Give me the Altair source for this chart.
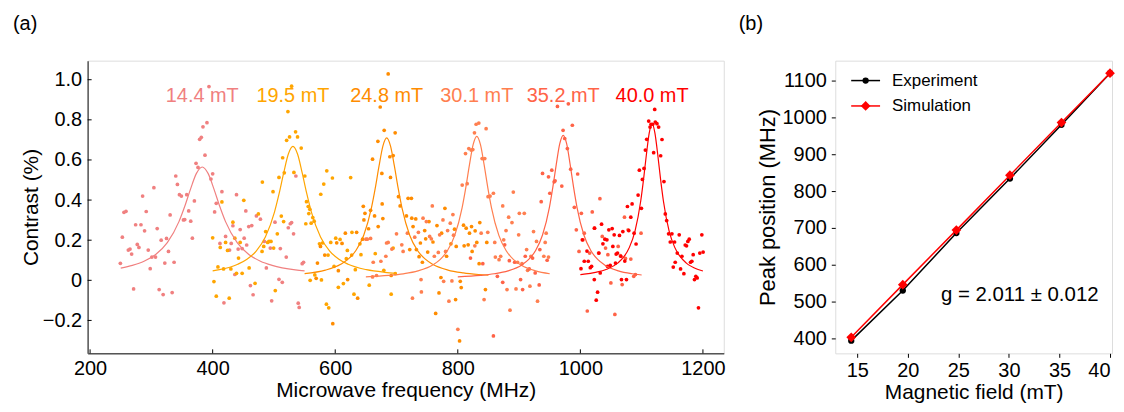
import altair as alt
import pandas as pd

FONT = "Liberation Sans"

# ---------------- panel (a) data ----------------
series_names = ["14.4 mT", "19.5 mT", "24.8 mT", "30.1 mT", "35.2 mT", "40.0 mT"]
series_colors = ["#F08080", "#FFA500", "#FF8C00", "#FF7F50", "#FF6347", "#FF0000"]
peak_freq = [383, 531, 684, 831, 972, 1117]

x_144 = [249.4, 252.6, 255.3, 258.6, 262.4, 265.1, 267.8, 271.0, 274.3, 277.0, 279.7, 283.0, 285.7, 288.9, 291.6,
         294.9, 298.1, 300.8, 304.1, 306.8, 309.5, 312.7, 316.0, 319.2, 321.9, 324.7, 327.9, 330.6, 333.9, 337.1,
         339.8, 342.5, 345.8, 349.0, 352.3, 354.4, 357.7, 360.9, 364.2, 366.9, 370.2, 372.9, 376.1, 378.8, 381.5,
         384.2, 387.5, 390.7, 394.0, 397.2, 400.0, 403.2, 405.9, 411.9, 415.1, 418.4, 421.1, 427.6, 430.3, 433.0,
         436.2, 438.9, 441.6, 444.9, 448.1, 451.4, 454.1, 455.5, 458.9, 461.6, 463.8, 466.0, 471.4, 477.9, 484.4,
         487.6, 494.1, 496.3, 501.7, 508.2, 510.4, 513.6, 520.1, 523.4, 526.6, 528.8, 532.0, 535.8, 539.6, 541.2,
         546.1, 548.3]
y_144 = [0.085, 0.215, 0.339, 0.344, 0.151, 0.156, 0.131, -0.043, 0.277, 0.179, 0.164, 0.277, 0.420, 0.247, 0.343,
         0.151, 0.058, 0.116, 0.462, 0.116, 0.258, -0.046, 0.200, -0.071, 0.086, 0.209, 0.144, 0.326, -0.061, 0.090,
         0.520, 0.478, 0.427, 0.420, 0.301, 0.303, 0.427, 0.346, 0.295, 0.210, 0.396, 0.583, 0.563, 0.703, 0.713,
         0.765, 0.624, 0.786, 0.966, 0.505, 0.531, 0.341, 0.384, 0.184, 0.442, -0.112, 0.219, 0.151, 0.184, 0.272,
         0.029, 0.427, 0.156, 0.253, 0.158, 0.210, 0.346, 0.176, 0.268, -0.026, 0.273, -0.072, 0.321, 0.305, 0.194,
         0.062, 0.161, -0.102, 0.290, 0.005, 0.158, -0.010, 0.116, 0.262, 0.282, 0.288, 0.232, 0.520, -0.114, -0.135,
         0.083, 0.090]

x_195 = [400.0, 402.1, 405.9, 408.6, 412.4, 415.1, 417.8, 421.1, 424.3, 427.0, 429.7, 433.0, 436.2, 438.9, 442.2,
         444.9, 448.1, 450.8, 459.5, 469.2, 474.6, 480.6, 481.1, 483.3, 486.5, 489.8, 492.0, 495.2, 498.5, 499.5,
         502.2, 505.5, 508.2, 512.0, 514.2, 515.8, 516.9, 520.7, 522.8, 525.5, 528.8, 532.6, 535.3, 538.5, 544.5,
         550.4, 553.1, 552.0, 555.9, 556.9, 558.6, 559.1, 560.7, 563.4, 565.6, 566.7, 574.3, 576.4, 577.5, 579.1,
         581.3, 586.2, 585.6, 588.3, 589.4, 592.7, 595.4, 598.1, 600.8, 605.1, 607.9, 613.3, 618.1, 619.8, 625.2,
         627.3, 626.8, 630.6, 632.8, 640.3, 642.0, 655.5, 665.3, 679.3, 691.3, 694.5, 698.0]
y_195 = [0.212, -0.006, -0.079, 0.067, 0.164, 0.391, 0.057, 0.189, 0.149, -0.089, 0.057, 0.290, 0.210, 0.035, 0.111,
         0.189, 0.035, 0.399, 0.062, -0.015, 0.331, 0.144, 0.490, 0.169, 0.243, 0.189, 0.194, 0.194, 0.442, 0.161,
         -0.051, 0.232, 0.513, 0.320, 0.611, 0.293, 0.536, 0.698, 0.841, 0.715, 0.968, 0.538, 0.740, 0.715, 0.659,
         0.520, 0.392, 0.282, 0.368, 0.333, 0.354, 0.000, 0.285, 0.313, 0.295, 0.027, 0.182, 0.429, 0.002, 0.186,
         0.480, 0.546, -0.119, 0.126, -0.137, 0.189, 0.510, 0.070, 0.210, -0.035, 0.204, -0.016, 0.108, 0.149, 0.512,
         0.239, 0.126, -0.069, 0.053, 0.182, 0.128, -0.024, 0.133, 0.050, -0.069, 0.161, 0.033]

x_248 = [568.9, 571.0, 575.9, 582.9, 596.0, 602.4, 605.1, 611.1, 616.5, 620.3, 634.9, 636.6, 644.7, 645.8, 646.8,
         648.5, 654.4, 657.7, 660.9, 664.2, 669.6, 670.1, 673.4, 676.1, 676.6, 677.7, 679.9, 686.4, 689.1, 690.2,
         691.3, 694.5, 697.8, 703.2, 705.9, 716.2, 718.9, 721.6, 724.3, 724.9, 727.0, 731.4, 732.4, 736.8, 739.0,
         742.2, 746.0, 747.6, 750.9, 753.0, 759.5, 763.9, 766.0, 769.3, 772.5, 773.6, 779.0, 781.7, 788.8, 794.7,
         796.4, 797.4, 802.9, 804.0, 805.6, 809.4, 810.4, 813.7, 816.9, 819.1, 822.4, 823.4, 828.3, 831.0, 834.8,
         835.9, 845.1, 847.3]
y_248 = [0.010, 0.086, 0.169, 0.126, -0.216, 0.187, 0.048, 0.184, 0.235, 0.004, 0.239, -0.089, 0.205, 0.369, 0.301,
         0.334, 0.257, 0.349, 0.604, 0.321, 0.693, 0.268, 0.864, 0.533, 0.381, 0.308, 0.748, 1.029, 0.616, 0.513,
         0.024, 0.622, 0.735, 0.417, 0.371, 0.321, 0.409, 0.153, 0.409, 0.310, 0.268, 0.306, 0.153, 0.118, 0.186,
         0.090, 0.248, 0.207, 0.141, 0.293, 0.191, -0.165, 0.273, -0.063, 0.014, 0.235, 0.359, 0.120, 0.182, 0.255,
         -0.096, 0.169, -0.302, -0.005, -0.036, 0.275, 0.172, 0.260, 0.177, 0.235, 0.268, 0.144, 0.247, 0.189, 0.083,
         0.288, -0.046, 0.189]

x_301 = [650.1, 652.3, 657.7, 660.9, 662.0, 667.4, 674.5, 682.6, 683.7, 686.4, 692.4, 700.0, 708.6, 710.8, 717.8,
         726.0, 729.7, 735.7, 740.0, 740.6, 743.3, 748.7, 754.1, 756.8, 758.4, 761.7, 768.2, 770.4, 775.8, 776.9,
         780.1, 783.4, 785.5, 787.7, 790.4, 792.0, 793.1, 800.1, 807.2, 812.6, 815.3, 818.0, 821.8, 824.5, 827.2,
         827.8, 829.9, 834.3, 838.1, 839.7, 842.9, 844.0, 846.2, 848.9, 849.4, 852.7, 858.1, 860.3, 861.3, 867.3,
         870.0, 873.3, 874.9, 878.7, 880.3, 883.0, 885.2, 888.4, 890.6, 895.0, 897.6, 899.3, 900.4, 904.7, 908.5,
         912.3, 913.9, 917.7, 919.3, 923.6, 928.5, 930.1, 940.4, 942.6, 944.2, 948.0]
y_301 = [0.205, 0.205, 0.209, 0.017, 0.090, 0.024, 0.095, 0.120, 0.186, 0.189, 0.156, 0.232, 0.177, 0.144, 0.235,
         -0.089, 0.215, 0.239, 0.004, -0.058, 0.310, 0.293, 0.219, 0.207, 0.371, 0.120, 0.139, 0.227, 0.301, -0.005,
         0.144, 0.248, -0.104, 0.285, -0.003, 0.328, 0.225, -0.244, 0.475, 0.632, 0.482, 0.657, 0.649, 0.652, 0.735,
         0.172, 0.778, 0.784, 0.235, 0.607, -0.096, 0.607, 0.756, 0.239, 0.417, 0.420, 0.434, 0.189, 0.116, 0.103,
         0.120, 0.371, 0.202, 0.248, -0.046, 0.315, -0.149, 0.288, 0.440, -0.043, 0.090, 0.227, 0.334, 0.083, 0.334,
         0.153, 0.050, -0.029, 0.120, 0.243, 0.194, -0.104, 0.120, 0.189, 0.235, 0.116]

x_352 = [820.7, 840.8, 858.1, 864.6, 873.3, 876.5, 884.1, 892.8, 902.5, 905.8, 910.1, 916.6, 922.0, 926.3, 932.8,
         933.9, 936.1, 938.3, 945.8, 948.0, 950.2, 953.4, 957.2, 958.8, 962.6, 969.7, 971.8, 974.5, 978.8, 980.4,
         984.2, 986.9, 990.2, 993.4, 995.6, 997.8, 1001.6, 1004.3, 1006.4, 1011.3, 1015.1, 1019.4, 1022.7, 1029.7,
         1031.9, 1035.7, 1041.1, 1044.9, 1049.8, 1056.3, 1061.7, 1065.5, 1068.2, 1072.0, 1073.6, 1077.9, 1082.3,
         1087.1, 1089.8, 1099.0]
y_352 = [0.111, 0.083, -0.277, 0.020, -0.010, 0.177, 0.098, 0.090, 0.004, -0.046, 0.120, 0.057, 0.111, 0.037, -0.023,
         0.153, 0.392, 0.533, 0.100, 0.516, 0.434, 0.549, 0.491, 0.496, 0.867, 0.470, 0.748, 0.707, 0.657, 0.880,
         0.554, 0.773, 0.364, 0.252, 0.530, 0.144, 0.334, 0.202, 0.235, -0.153, 0.136, 0.341, 0.260, 0.136,
         0.407, 0.219, 0.161, 0.128, -0.013, -0.170, 0.169, 0.123, -0.021, 0.315, 0.109, 0.252, 0.106,
         0.020, 0.029, 0.235]

x_400 = [1001.0, 1003.2, 1006.4, 1010.8, 1012.9, 1016.2, 1018.3, 1022.7, 1023.2, 1025.9, 1028.1, 1030.3, 1032.4,
         1034.6, 1036.8, 1040.0, 1043.3, 1044.3, 1046.5, 1048.7, 1051.9, 1053.0, 1055.2, 1057.3, 1058.4, 1060.6,
         1063.8, 1066.0, 1067.1, 1069.3, 1072.5, 1075.2, 1076.8, 1079.0, 1082.3, 1084.4, 1087.7, 1090.9, 1094.2,
         1096.3, 1099.6, 1101.2, 1103.9, 1106.1, 1108.3, 1111.5, 1113.7, 1115.3, 1118.0, 1119.6, 1121.3, 1122.3,
         1125.0, 1127.7, 1131.0, 1133.2, 1136.4, 1138.6, 1140.8, 1144.0, 1146.7, 1149.4, 1151.6, 1153.7, 1154.8,
         1158.1, 1161.3, 1163.5, 1165.7, 1168.9, 1171.1, 1173.2, 1175.4, 1177.6, 1179.7, 1181.9, 1184.1, 1186.2,
         1188.4, 1190.6, 1192.7, 1194.9, 1198.2, 1200.3]
y_400 = [0.058, 0.202, 0.095, 0.146, 0.095, 0.063, 0.070, 0.004, 0.260, -0.099, -0.059, 0.136, 0.037,
         0.280, 0.182, 0.205, 0.202, 0.070, 0.252, 0.075, 0.258, 0.169, 0.227, 0.086, 0.131, 0.136,
         0.224, 0.120, 0.004, 0.243, 0.096, 0.004, 0.368, 0.248, 0.315, 0.381, 0.235, 0.181, 0.425,
         0.549, 0.359, 0.503, 0.558, 0.649, 0.703, 0.794, 0.764, 0.778, 0.778, 0.636, 0.852, 0.789,
         0.781, 0.764, 0.621, 0.702, 0.492, 0.331, 0.298, 0.232, 0.191, 0.232, 0.066, 0.191, 0.090,
         0.136, 0.227, 0.057, 0.120, 0.033, 0.176, 0.172, 0.194, 0.205, 0.090, 0.095, 0.128, 0.004,
         0.020, 0.012, -0.137, 0.136, 0.227, 0.141]

# Lorentzian fit curves
fx_144 = [250, 269, 288, 307, 326, 345, 354.5, 364, 373.5, 383, 392.5, 402, 411.5, 421, 440, 459, 478, 497, 535, 550]
fy_144 = [0.061, 0.0745, 0.095, 0.129, 0.188, 0.2925, 0.369, 0.456, 0.533, 0.565, 0.533, 0.456, 0.369, 0.2925,
          0.188, 0.129, 0.095, 0.0745, 0.052, 0.047]
fx_195 = [400, 411, 441, 456, 471, 486, 501, 508.5, 516, 523.5, 531, 538.5, 546, 553.5, 561, 576, 591, 606, 621,
          651, 681, 700]
fy_195 = [0.0475, 0.053, 0.080, 0.105, 0.146, 0.216, 0.3415, 0.433, 0.537, 0.630, 0.668, 0.630, 0.537, 0.433,
          0.3415, 0.216, 0.146, 0.105, 0.080, 0.053, 0.040, 0.035]
fx_248 = [550, 584, 609, 621.5, 634, 646.5, 659, 665.25, 671.5, 677.75, 684, 690.25, 696.5, 702.75, 709, 721.5,
          734, 746.5, 759, 784, 809, 834, 850]
fy_248 = [0.0336, 0.051, 0.080, 0.1066, 0.150, 0.225, 0.360, 0.458, 0.570, 0.669, 0.710, 0.669, 0.570, 0.458,
          0.360, 0.225, 0.150, 0.1066, 0.080, 0.051, 0.037, 0.029, 0.0255]
fx_301 = [650, 687, 711, 735, 759, 771, 783, 795, 807, 813, 819, 825, 831, 837, 843, 849, 855, 867, 879, 891, 903,
          927, 950]
fy_301 = [0.0173, 0.0243, 0.0324, 0.047, 0.0763, 0.103, 0.1476, 0.224, 0.3615, 0.461, 0.575, 0.676, 0.718, 0.676,
          0.575, 0.461, 0.3615, 0.224, 0.1476, 0.103, 0.0763, 0.047, 0.0328]
fx_352 = [800, 837, 859.5, 882, 904.5, 915.75, 927, 938.25, 949.5, 955.1, 960.75, 966.4, 972, 977.6, 983.25, 988.9,
          994.5, 1005.75, 1017, 1028.25, 1039.5, 1062, 1084.5, 1100]
fy_352 = [0.0171, 0.0244, 0.0326, 0.0472, 0.0768, 0.104, 0.1486, 0.226, 0.364, 0.4645, 0.579, 0.681, 0.723, 0.681,
          0.579, 0.4645, 0.364, 0.226, 0.1486, 0.104, 0.0768, 0.0472, 0.0326, 0.0265]
fx_400 = [1000, 1006, 1024.5, 1043, 1061.5, 1070.75, 1080, 1089.25, 1098.5, 1103.1, 1107.75, 1112.4, 1117, 1121.6,
          1126.25, 1130.9, 1135.5, 1144.75, 1154, 1163.25, 1172.5, 1191, 1200]
fy_400 = [0.0288, 0.0308, 0.0397, 0.0553, 0.0871, 0.1164, 0.1642, 0.247, 0.3955, 0.503, 0.627, 0.7355, 0.781,
          0.7355, 0.627, 0.503, 0.3955, 0.247, 0.1642, 0.1164, 0.0871, 0.0553, 0.0465]

freq_ticks = [200, 400, 600, 800, 1000, 1200]
contrast_ticks = [-0.2, 0, 0.2, 0.4, 0.6, 0.8, 1.0]

# ---------------- panel (b) data ----------------
field_mT = [14.4, 19.5, 24.8, 30.1, 35.2, 40.0]
exp_peak = [394, 530, 686, 834, 980, 1120]
sim_peak = [403, 546, 694, 843, 986, 1120]
field_ticks = [15, 20, 25, 30, 35, 40]
peak_ticks = [400, 500, 600, 700, 800, 900, 1000, 1100]
g_text = "g = 2.011 ± 0.012"

# ---------------- build tables ----------------
pts_x = [x_144, x_195, x_248, x_301, x_352, x_400]
pts_y = [y_144, y_195, y_248, y_301, y_352, y_400]
fit_x = [fx_144, fx_195, fx_248, fx_301, fx_352, fx_400]
fit_y = [fy_144, fy_195, fy_248, fy_301, fy_352, fy_400]

pts = pd.concat([pd.DataFrame({"f": xs, "c": ys, "series": name})
                 for xs, ys, name in zip(pts_x, pts_y, series_names)], ignore_index=True)
fits = pd.concat([pd.DataFrame({"f": xs, "c": ys, "series": name})
                  for xs, ys, name in zip(fit_x, fit_y, series_names)], ignore_index=True)
labels = pd.DataFrame({"f": peak_freq, "series": series_names})

W_A, H_A = 639, 294
W_B, H_B = 278, 294

xa = alt.Scale(domain=[196, 1234], nice=False, zero=False)
ya = alt.Scale(domain=[-0.364, 1.095], nice=False, zero=False)
col = alt.Scale(domain=series_names, range=series_colors)

x_enc = alt.X("f:Q", scale=xa, axis=alt.Axis(
    values=freq_ticks, format="d", title="Microwave frequency (MHz)", labelFontSize=20, titleFontSize=21,
    titleFontWeight="normal", labelPadding=5, titlePadding=1, ticks=False, grid=False,
    domain=True, domainColor="#555555", domainWidth=1.5))
y_enc = alt.Y("c:Q", scale=ya, axis=alt.Axis(
    values=contrast_ticks, title="Contrast (%)", labelFontSize=20, titleFontSize=21, titleFontWeight="normal",
    labelPadding=6, titlePadding=1, ticks=False, grid=False,
    domain=True, domainColor="#555555", domainWidth=1.5,
    labelExpr="datum.value == 0 ? '0' : format(datum.value, '.1f')"))

points_a = alt.Chart(pts).mark_circle(size=14, opacity=1).encode(
    x=x_enc, y=y_enc, color=alt.Color("series:N", scale=col, legend=None))
lines_a = alt.Chart(fits).mark_line(strokeWidth=1.2, interpolate="monotone").encode(
    x="f:Q", y="c:Q", color=alt.Color("series:N", scale=col, legend=None), detail="series:N")
text_a = alt.Chart(labels).mark_text(fontSize=20, font=FONT, baseline="middle", align="center").encode(
    x="f:Q", y=alt.value(36), text="series:N", color=alt.Color("series:N", scale=col, legend=None))
xt_a = alt.Chart(pd.DataFrame({"f": freq_ticks})).mark_rule(color="black", strokeWidth=1).encode(
    x="f:Q", y=alt.value(H_A), y2=alt.value(H_A - 4))
yt_a = alt.Chart(pd.DataFrame({"c": contrast_ticks})).mark_rule(color="black", strokeWidth=1).encode(
    y="c:Q", x=alt.value(0), x2=alt.value(4))
tag_a = alt.Chart(pd.DataFrame({"t": ["(a)"]})).mark_text(
    fontSize=20, font=FONT, align="left", baseline="alphabetic", color="black").encode(
    x=alt.value(-75), y=alt.value(-30.5), text="t:N")

panel_a = alt.layer(points_a, lines_a, text_a, xt_a, yt_a, tag_a).properties(width=W_A, height=H_A)

# panel b
exp_df = pd.DataFrame({"B": field_mT, "P": exp_peak})
sim_df = pd.DataFrame({"B": field_mT, "P": sim_peak})
xb = alt.Scale(domain=[12.82, 40.2], nice=False, zero=False)
yb = alt.Scale(domain=[359.5, 1154], nice=False, zero=False)
xb_enc = alt.X("B:Q", scale=xb, axis=alt.Axis(
    values=field_ticks, format="d", title="Magnetic field (mT)", labelFontSize=20, titleFontSize=21,
    titleFontWeight="normal", tickSize=4, labelPadding=3, titlePadding=1, domain=False, grid=False,
    tickColor="black", labelFlush=5))
yb_enc = alt.Y("P:Q", scale=yb, axis=alt.Axis(
    values=peak_ticks, format="d", title="Peak position (MHz)", labelFontSize=20, titleFontSize=22,
    titleFontWeight="normal", tickSize=4, labelPadding=5, titlePadding=3, domain=False, grid=False,
    tickColor="black"))

exp_line = alt.Chart(exp_df).mark_line(color="black", strokeWidth=1.5).encode(x=xb_enc, y=yb_enc)
exp_pts = alt.Chart(exp_df).mark_point(shape="circle", filled=True, size=40, color="black", opacity=1).encode(
    x="B:Q", y="P:Q")
sim_line = alt.Chart(sim_df).mark_line(color="#FF0000", strokeWidth=1.5).encode(x="B:Q", y="P:Q")
sim_pts = alt.Chart(sim_df).mark_point(shape="diamond", filled=True, size=95, color="#FF0000", opacity=1).encode(
    x="B:Q", y="P:Q")

g_df = pd.DataFrame({"B": [31.07], "P": [519], "t": [g_text]})
g_lbl = alt.Chart(g_df).mark_text(fontSize=20.5, font=FONT, align="center", baseline="middle", color="black").encode(
    x="B:Q", y="P:Q", text="t:N")

leg_rows = [("Experiment", "black", "circle", 40, 20), ("Simulation", "#FF0000", "diamond", 95, 45.5)]
leg_layers = []
for name, c, shp, sz, yy in leg_rows:
    d = pd.DataFrame({"t": [name]})
    leg_layers.append(alt.Chart(d).mark_rule(color=c, strokeWidth=1.5).encode(
        x=alt.value(16), x2=alt.value(45), y=alt.value(yy)))
    leg_layers.append(alt.Chart(d).mark_point(shape=shp, filled=True, size=sz, color=c, opacity=1).encode(
        x=alt.value(30.5), y=alt.value(yy)))
    leg_layers.append(alt.Chart(d).mark_text(fontSize=17, font=FONT, align="left", baseline="middle",
                                             color="black").encode(
        x=alt.value(57), y=alt.value(yy), text="t:N"))

tag_b = alt.Chart(pd.DataFrame({"t": ["(b)"]})).mark_text(
    fontSize=20, font=FONT, align="left", baseline="alphabetic", color="black").encode(
    x=alt.value(-97), y=alt.value(-30.5), text="t:N")

panel_b = alt.layer(exp_line, exp_pts, sim_line, sim_pts, g_lbl, tag_b, *leg_layers).properties(
    width=W_B, height=H_B)

chart = alt.hconcat(panel_a, panel_b, spacing=12).properties(
    padding={"left": 4, "top": 5, "right": 0, "bottom": 0}
).configure_view(
    stroke="black", strokeWidth=1
).configure_axis(
    labelFont=FONT, titleFont=FONT, labelColor="black", titleColor="black", titleFontWeight="normal"
).configure(background="white")

chart.save("out.html", embed_options={"renderer": "svg", "actions": False})
